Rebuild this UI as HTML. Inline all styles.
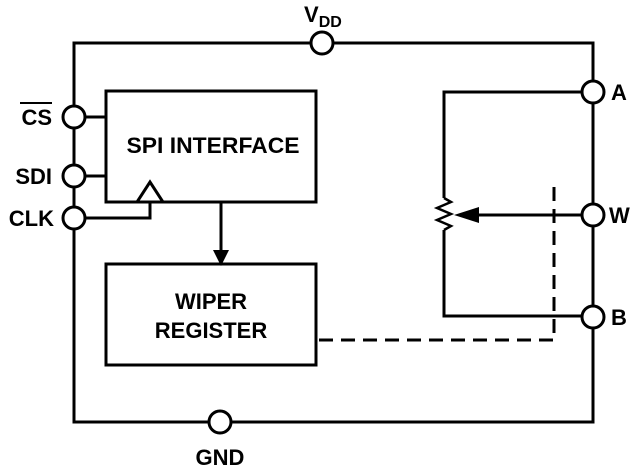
<!DOCTYPE html>
<html><head><style>body{margin:0;background:#fff}</style></head><body>
<svg width="640" height="470" xmlns="http://www.w3.org/2000/svg" font-family="Liberation Sans, sans-serif" font-weight="bold">
<g stroke="#000" stroke-width="3" fill="none">
<rect x="74" y="43" width="519" height="379"/>
<rect x="106" y="91" width="210" height="111" fill="#fff"/>
<rect x="106" y="264" width="210" height="101" fill="#fff"/>
<line x1="85" y1="117" x2="106" y2="117"/>
<line x1="85" y1="176" x2="106" y2="176"/>
<polyline points="85,218 150,218 150,202"/>
<polygon points="137,202 163,202 150,182" fill="#fff"/>
<line x1="221" y1="202" x2="221" y2="250"/>
<polyline points="582,92 444,92 444,198"/>
<polyline points="444,230 444,316 582,316"/>
<polyline points="444,198 451,202 437,208 451,214 437,220 451,226 444,230" stroke-width="2.5"/>
<line x1="470" y1="215" x2="582" y2="215"/>
<polyline points="554,187 554,340 316,340" stroke-dasharray="14,8"/>
</g>
<polygon points="213,250 229,250 221,266" fill="#000"/>
<polygon points="454,215 479,207 479,223" fill="#000"/>
<g stroke="#000" stroke-width="3" fill="#fff">
<circle cx="74" cy="117" r="11"/><circle cx="74" cy="176" r="11"/><circle cx="74" cy="218" r="11"/>
<circle cx="322" cy="43" r="11"/><circle cx="220" cy="422" r="11"/>
<circle cx="593" cy="92" r="11"/><circle cx="593" cy="215" r="11"/><circle cx="593" cy="317" r="11"/>
</g>
<g font-size="22" fill="#000">
<text x="213" y="153" text-anchor="middle" textLength="173" lengthAdjust="spacingAndGlyphs">SPI INTERFACE</text>
<text x="211" y="309" text-anchor="middle">WIPER</text>
<text x="211" y="338" text-anchor="middle">REGISTER</text>
<text x="52" y="125" text-anchor="end">CS</text>
<line x1="20" y1="103" x2="52" y2="103" stroke="#000" stroke-width="2"/>
<text x="52" y="184" text-anchor="end">SDI</text>
<text x="54" y="226" text-anchor="end">CLK</text>
<text x="611" y="100">A</text>
<text x="609" y="223">W</text>
<text x="611" y="325">B</text>
<text x="304" y="22">V<tspan font-size="16" dy="5">DD</tspan></text>
<text x="220" y="465" text-anchor="middle">GND</text>
</g>
</svg>
</body></html>
